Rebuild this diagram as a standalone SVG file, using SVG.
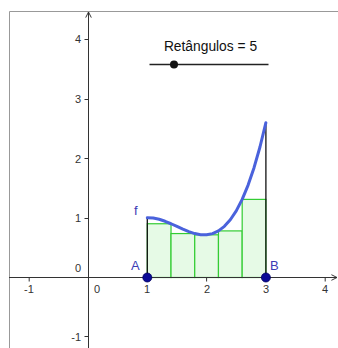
<svg xmlns="http://www.w3.org/2000/svg" width="338" height="348" viewBox="0 0 338 348">
<style>
.ax{stroke:#333;stroke-width:1;fill:none}
.frame{stroke:#999;stroke-width:1;fill:none}
.lbl{font-family:"Liberation Sans",Arial,sans-serif;font-size:11px;fill:#333}
.rect{fill:#e6fae6;stroke:#33cc33;stroke-width:1.2}
.pt{fill:#0a0a96;stroke:#000060;stroke-width:0.8}
.plbl{font-family:"Liberation Sans",Arial,sans-serif;font-size:13px;fill:#3c3cb4}
</style>
<defs>
<marker id="arr" viewBox="0 0 10 10" refX="9" refY="5" markerWidth="7" markerHeight="7" orient="auto" markerUnits="userSpaceOnUse">
<path d="M1,1 L9,5 L1,9" fill="none" stroke="#333" stroke-width="1.4"/>
</marker>
</defs>
<rect width="338" height="348" fill="#fff"/>
<g id="frame">
<path class="frame" d="M9.5,348 V11.5 H338"/>
</g>
<g id="rectangles">
<rect class="rect" x="147.3" y="223.75" width="23.72" height="53.75"/>
<rect class="rect" x="171.02" y="233.57" width="23.72" height="43.93"/>
<rect class="rect" x="194.74" y="234.82" width="23.72" height="42.68"/>
<rect class="rect" x="218.46" y="230.91" width="23.72" height="46.59"/>
<rect class="rect" x="242.18" y="199.39" width="23.72" height="78.11"/>
</g>
<g id="axes">
<line class="ax" x1="9" y1="277.5" x2="337" y2="277.5" marker-end="url(#arr)"/>
<line class="ax" x1="88.5" y1="348" x2="88.5" y2="12" marker-end="url(#arr)"/>
<path class="ax" d="M29.2,277.5 v4 M147.3,277.5 v4 M206.6,277.5 v4 M265.9,277.5 v4 M325.2,277.5 v4"/>
<path class="ax" d="M84.5,39.5 h4 M84.5,99.5 h4 M84.5,158.5 h4 M84.5,218.5 h4 M84.5,336.5 h4"/>
<g class="lbl" text-anchor="middle">
<text x="29" y="293">-1</text>
<text x="97" y="293">0</text>
<text x="147" y="293">1</text>
<text x="207" y="293">2</text>
<text x="266" y="293">3</text>
<text x="325" y="293">4</text>
</g>
<g class="lbl" text-anchor="end">
<text x="81" y="43">4</text>
<text x="81" y="103">3</text>
<text x="81" y="163">2</text>
<text x="81" y="222">1</text>
<text x="81" y="272">0</text>
<text x="81" y="341">-1</text>
</g>
</g>
<g id="segments">
<line x1="147.3" y1="277.5" x2="147.3" y2="217.8" stroke="#111" stroke-width="1.3"/>
<line x1="265.9" y1="277.5" x2="265.9" y2="122.7" stroke="#111" stroke-width="1.3"/>
</g>
<g id="f">
<polyline fill="none" stroke="#4a62dc" stroke-width="3" stroke-linecap="round" stroke-linejoin="round" points="147.3,217.8 153.23,218.03 159.16,219.27 165.09,221.26 171.02,223.75 176.95,226.48 182.88,229.2 188.81,231.65 194.74,233.57 200.67,234.72 206.6,234.82 212.53,233.64 218.46,230.91 224.39,226.37 230.32,219.78 236.25,210.87 242.18,199.39 248.11,185.09 254.04,167.71 259.97,147.01 265.9,122.67"/>
<text class="plbl" x="134" y="215" font-size="12" fill="#5a6ad0">f</text>
</g>
<g id="A">
<circle class="pt" cx="147.3" cy="277.5" r="4.5"/>
<text class="plbl" x="131" y="270">A</text>
</g>
<g id="B">
<circle class="pt" cx="265.9" cy="277.5" r="4.5"/>
<text class="plbl" x="270" y="270">B</text>
</g>
<g id="slider">
<text x="210.5" y="51" text-anchor="middle" font-family="'Liberation Sans',Arial,sans-serif" font-size="13.8" fill="#111">Retângulos = 5</text>
<line x1="149.5" y1="64.5" x2="268.5" y2="64.5" stroke="#222" stroke-width="1.3"/>
<circle cx="174" cy="64.5" r="4" fill="#111"/>
</g>
</svg>
